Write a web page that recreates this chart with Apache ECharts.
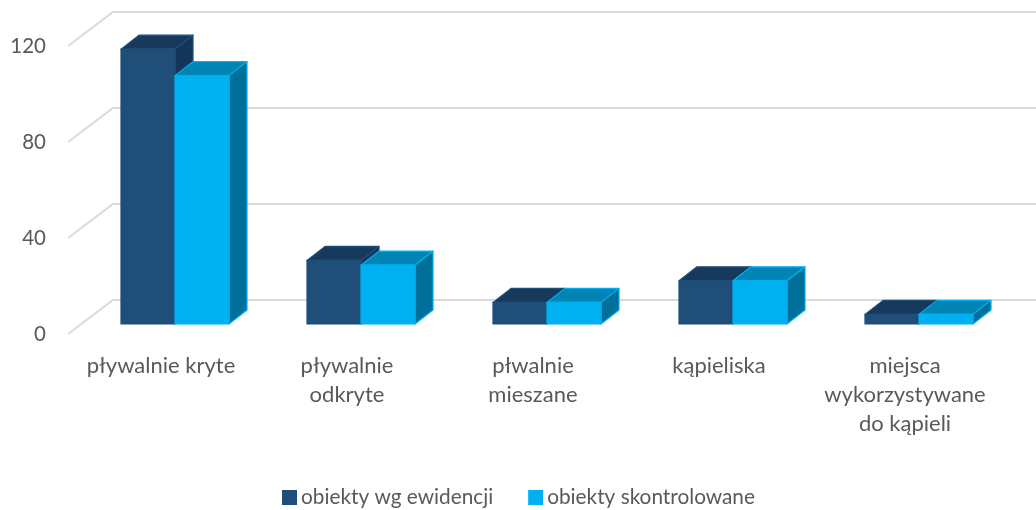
<!DOCTYPE html>
<html>
<head>
<meta charset="utf-8">
<title>obiekty</title>
<script src="https://cdn.jsdelivr.net/npm/echarts@6/dist/echarts.min.js"></script>
<style>
  html, body { margin: 0; padding: 0; background: #fff; }
  #chart { width: 1036px; height: 510px; }
</style>
</head>
<body>
<div id="chart"></div>
<script>
const categories = ["pływalnie kryte", "pływalnie\nodkryte", "płwalnie\nmieszane", "kąpieliska", "miejsca\nwykorzystywane\ndo kąpieli"];
const ewidencja = [114.5, 26.5, 9, 18, 4];
const skontrolowane = [103.5, 24.5, 9, 18, 4];
const yTicks = [0, 40, 80, 120];
const seriesNames = ["obiekty wg ewidencji", "obiekty skontrolowane"];

const chart = echarts.init(document.getElementById("chart"));

// fake 3d: how far the back wall sits behind the axis plane
const wallDx = 45, wallDy = 34;
// bars stand a bit in front of the wall
const barDx = 14, barDy = 10, depthX = 18, depthY = 14;
const barRatio = 54 / 186;

function wallItem(params, api) {
  const rect = params.coordSys;
  const y = api.coord([0, api.value(0)])[1];
  return {
    type: "polyline",
    shape: { points: [[rect.x, y], [rect.x + wallDx, y - wallDy], [rect.x + rect.width + wallDx, y - wallDy]] },
    style: { fill: null, stroke: "#d9d9d9", lineWidth: 2 }
  };
}

function barItem(side, front, top, dark, edge) {
  return function (params, api) {
    const c = api.coord([api.value(0), api.value(1)]);
    const base = api.coord([api.value(0), 0]);
    const w = api.size([1, 0])[0] * barRatio;
    const x0 = c[0] + barDx + (side < 0 ? -w : 0);
    const x1 = x0 + w;
    const yTop = c[1] - barDy;
    const yBase = base[1] - barDy;
    const poly = (points, fill) => ({
      type: "polygon",
      shape: { points: points },
      style: { fill: fill, stroke: edge, lineWidth: 1.2, lineJoin: "round" }
    });
    return {
      type: "group",
      children: [
        poly([[x0, yTop], [x0 + depthX, yTop - depthY], [x1 + depthX, yTop - depthY], [x1, yTop]], top),
        poly([[x1, yTop], [x1 + depthX, yTop - depthY], [x1 + depthX, yBase - depthY], [x1, yBase]], dark),
        poly([[x0, yTop], [x1, yTop], [x1, yBase], [x0, yBase]], front)
      ]
    };
  };
}

chart.setOption({
  backgroundColor: "#ffffff",
  animation: false,
  textStyle: { fontFamily: "Lato" },
  grid: { left: 68, top: 46, width: 930, height: 288 },
  legend: {
    left: 282,
    top: 487,
    padding: 0,
    icon: "rect",
    itemWidth: 15,
    itemHeight: 15,
    itemGap: 35,
    data: seriesNames,
    textStyle: { fontSize: 20.8, color: "#595959", fontFamily: "Lato", padding: [0, 0, 0, -1] }
  },
  xAxis: {
    type: "category",
    data: categories,
    axisLine: { show: false },
    axisTick: { show: false },
    axisLabel: { margin: 17, fontSize: 22, lineHeight: 29, color: "#595959", interval: 0, verticalAlign: "top" }
  },
  yAxis: {
    type: "value",
    min: 0,
    max: 120,
    interval: 40,
    axisLine: { show: false },
    axisTick: { show: false },
    splitLine: { show: false },
    axisLabel: { margin: 22, fontSize: 20.5, color: "#595959", padding: [5, 0, 0, 0] }
  },
  series: [
    {
      name: "wall",
      type: "custom",
      silent: true,
      renderItem: wallItem,
      encode: { y: 0 },
      data: yTicks.map(v => [v]),
      z: 1
    },
    {
      name: seriesNames[0],
      type: "custom",
      renderItem: barItem(-1, "#1f4e79", "#173a5c", "#14365a", "#1f4e79"),
      encode: { x: 0, y: 1 },
      itemStyle: { color: "#1f4e79" },
      data: ewidencja.map((v, i) => [i, v]),
      z: 2
    },
    {
      name: seriesNames[1],
      type: "custom",
      renderItem: barItem(1, "#00b0f0", "#0084b4", "#00709b", "#00b0f0"),
      encode: { x: 0, y: 1 },
      itemStyle: { color: "#00b0f0" },
      data: skontrolowane.map((v, i) => [i, v]),
      z: 3
    }
  ]
});
</script>
</body>
</html>
